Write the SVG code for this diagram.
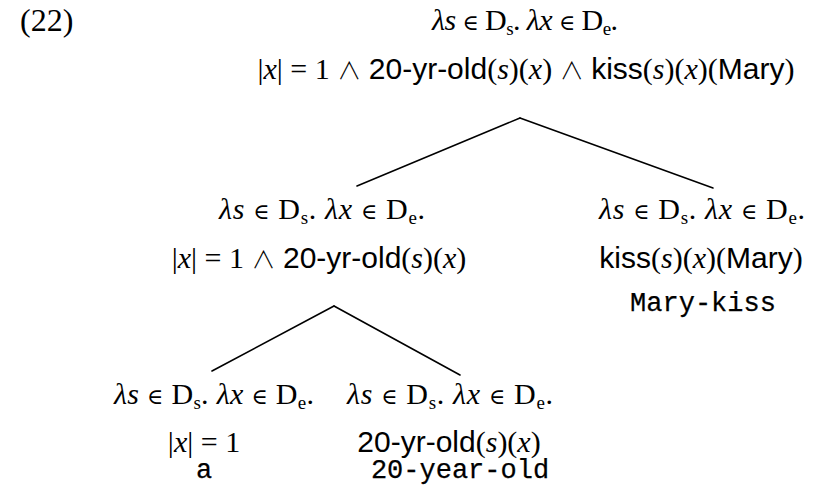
<svg xmlns="http://www.w3.org/2000/svg" width="821" height="486" viewBox="0 0 821 486">
<style>
text{font-family:"Liberation Serif","Times New Roman",serif;font-size:30px;fill:#000;text-anchor:middle}
.i{font-style:italic}
.sb{font-size:19px}
.el{font-family:"DejaVu Serif",serif;font-size:22px}
.w{font-family:"Noto Sans CJK JP","DejaVu Sans",sans-serif;font-size:24px;font-weight:300}
.sans{font-family:"Liberation Sans",Arial,sans-serif}
.mono{font-family:"Liberation Mono","Courier New",monospace;font-size:27px;stroke:#000;stroke-width:0.25}
.edge{stroke:#000;stroke-width:1.6;fill:none;stroke-linecap:round}
</style>
<rect width="821" height="486" fill="#fff"/>
<text x="20" y="31" style="text-anchor:start;font-size:32px">(22)</text>
<g id="n-root">
<text x="525" y="30" textLength="186" lengthAdjust="spacing"><tspan class="i">λs</tspan> <tspan class="el">∈</tspan> D<tspan class="sb" dy="5">s</tspan><tspan dy="-5">. </tspan><tspan class="i">λx</tspan> <tspan class="el">∈</tspan> D<tspan class="sb" dy="5">e</tspan><tspan dy="-5">.</tspan></text>
<text x="526" y="79">|<tspan class="i">x</tspan>| = 1 <tspan class="w">∧</tspan> <tspan class="sans">20-yr-old</tspan>(<tspan class="i">s</tspan>)(<tspan class="i">x</tspan>) <tspan class="w">∧</tspan> <tspan class="sans">kiss</tspan>(<tspan class="i">s</tspan>)(<tspan class="i">x</tspan>)(<tspan class="sans">Mary</tspan>)</text>
</g>
<g id="n-mid">
<text x="322" y="219" textLength="206" lengthAdjust="spacing"><tspan class="i">λs</tspan> <tspan class="el">∈</tspan> D<tspan class="sb" dy="5">s</tspan><tspan dy="-5">. </tspan><tspan class="i">λx</tspan> <tspan class="el">∈</tspan> D<tspan class="sb" dy="5">e</tspan><tspan dy="-5">.</tspan></text>
<text x="319" y="268">|<tspan class="i">x</tspan>| = 1 <tspan class="w">∧</tspan> <tspan class="sans">20-yr-old</tspan>(<tspan class="i">s</tspan>)(<tspan class="i">x</tspan>)</text>
</g>
<g id="n-kiss">
<text x="702" y="219" textLength="206" lengthAdjust="spacing"><tspan class="i">λs</tspan> <tspan class="el">∈</tspan> D<tspan class="sb" dy="5">s</tspan><tspan dy="-5">. </tspan><tspan class="i">λx</tspan> <tspan class="el">∈</tspan> D<tspan class="sb" dy="5">e</tspan><tspan dy="-5">.</tspan></text>
<text x="701" y="268"><tspan class="sans">kiss</tspan>(<tspan class="i">s</tspan>)(<tspan class="i">x</tspan>)(<tspan class="sans">Mary</tspan>)</text>
<text class="mono" x="703" y="311">Mary-kiss</text>
</g>
<g id="n-a">
<text x="214" y="404" textLength="200" lengthAdjust="spacing"><tspan class="i">λs</tspan> <tspan class="el">∈</tspan> D<tspan class="sb" dy="5">s</tspan><tspan dy="-5">. </tspan><tspan class="i">λx</tspan> <tspan class="el">∈</tspan> D<tspan class="sb" dy="5">e</tspan><tspan dy="-5">.</tspan></text>
<text x="204" y="452">|<tspan class="i">x</tspan>| = 1</text>
<text class="mono" x="204" y="478">a</text>
</g>
<g id="n-old">
<text x="450" y="404" textLength="206" lengthAdjust="spacing"><tspan class="i">λs</tspan> <tspan class="el">∈</tspan> D<tspan class="sb" dy="5">s</tspan><tspan dy="-5">. </tspan><tspan class="i">λx</tspan> <tspan class="el">∈</tspan> D<tspan class="sb" dy="5">e</tspan><tspan dy="-5">.</tspan></text>
<text x="449" y="452"><tspan class="sans">20-yr-old</tspan>(<tspan class="i">s</tspan>)(<tspan class="i">x</tspan>)</text>
<text class="mono" x="460" y="478">20-year-old</text>
</g>
<g id="connectors">
<line class="edge" x1="520" y1="118" x2="357" y2="186"/>
<line class="edge" x1="520" y1="118" x2="713" y2="188"/>
<line class="edge" x1="334" y1="306" x2="212" y2="371"/>
<line class="edge" x1="334" y1="306" x2="460" y2="375"/>
</g>
</svg>
